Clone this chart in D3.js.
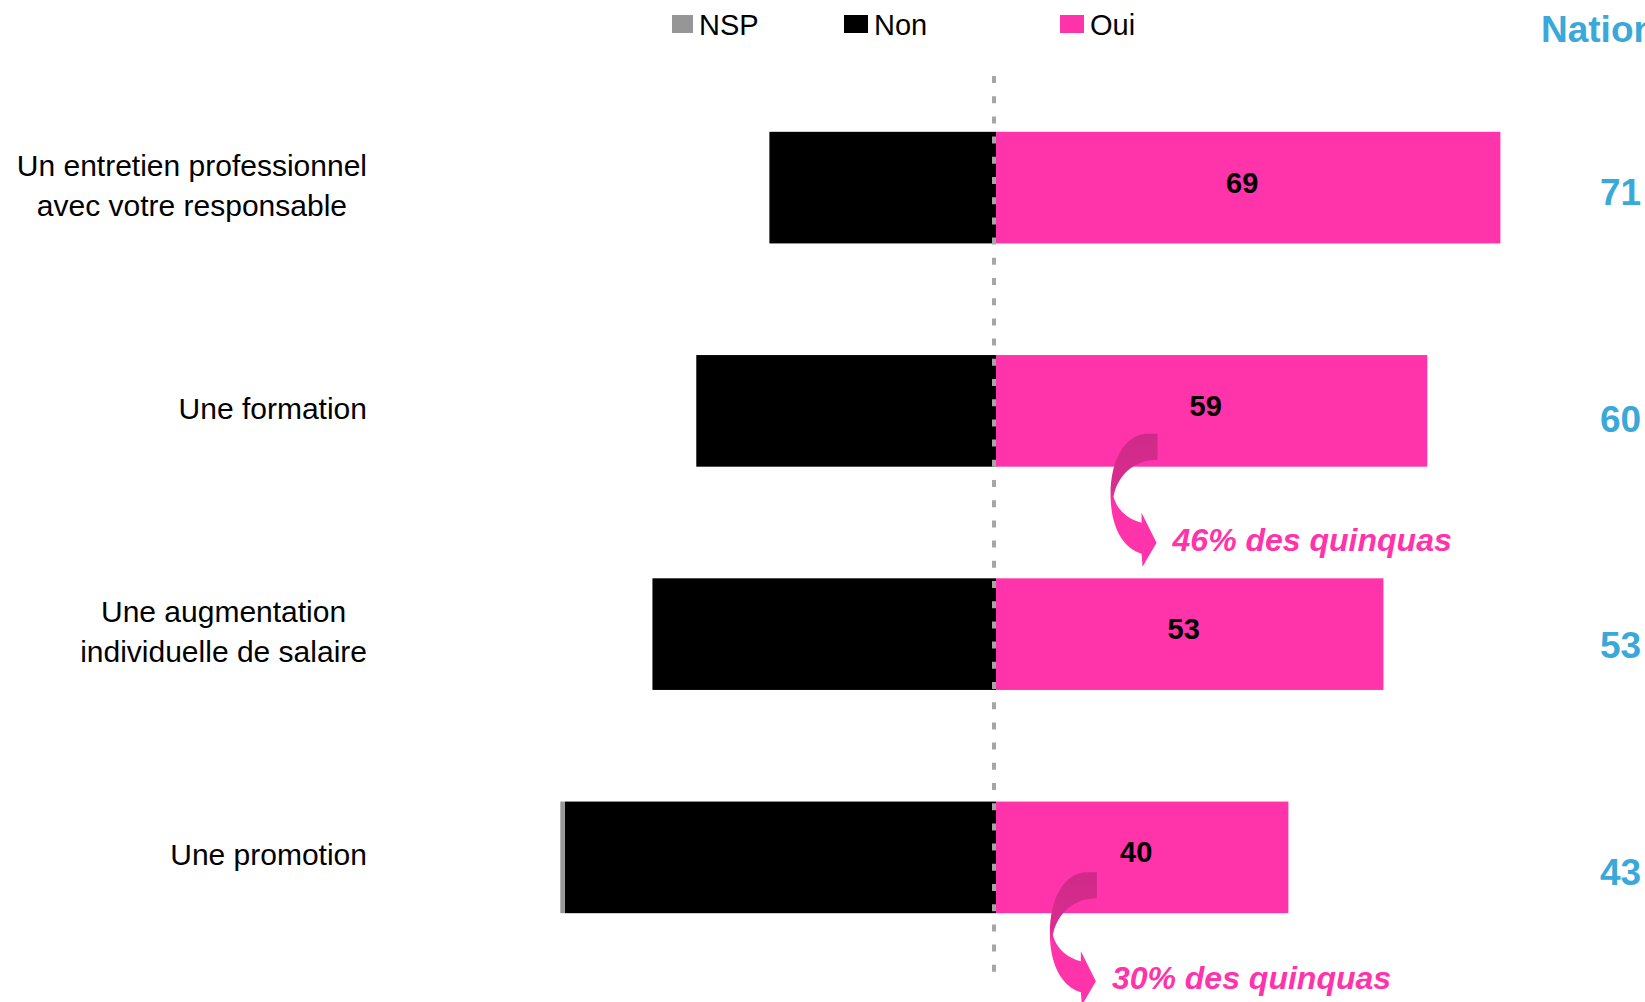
<!DOCTYPE html>
<html lang="fr">
<head>
<meta charset="utf-8">
<script src="https://cdn.jsdelivr.net/npm/d3@7"></script>
<style>
  html, body { margin: 0; padding: 0; background: #fff; overflow: hidden; }
  svg { display: block; font-family: "Liberation Sans", Arial, sans-serif; }
</style>
</head>
<body>
<svg id="chart" width="1645" height="1002"></svg>
<script>
// Survey answers, in percent
const categories = [
  "Un entretien professionnel|avec votre responsable",
  "Une formation",
  "Une augmentation|individuelle de salaire",
  "Une promotion"
];
const oui = [69, 59, 53, 40];
const non = [31, 41, 47, 59];
const nsp = [0, 0, 0, 0.6];

// National reference figures shown on the right
const nationalTitle = "National";
const national = [71, 60, 53, 43];

// Legend
const legendLabels = ["NSP", "Non", "Oui"];

// Call-outs under some bars
const calloutCategories = ["Une formation", "Une promotion"];
const calloutTexts = ["46% des quinquas", "30% des quinquas"];

// ---- styling ----
const COLORS = { NSP: "#969696", Non: "#000000", Oui: "#ff33aa" };
const BLUE = "#3aa9d9";
const W = 1645, H = 1002;

const svg = d3.select("#chart");
svg.append("rect").attr("width", W).attr("height", H).attr("fill", "#fff");

const rows = categories.map((c, i) => ({ cat: c, oui: oui[i], non: non[i], nsp: nsp[i], nat: national[i] }));

const x = d3.scaleLinear().domain([-100, 100]).range([265, 1727]);
const y = d3.scaleBand().domain(categories).range([76, 969]).paddingInner(0.5).paddingOuter(0.25);

// gradient for the curved call-out arrows
const defs = svg.append("defs");
const grad = defs.append("linearGradient").attr("id", "arrowGrad")
  .attr("x1", 0).attr("y1", 0).attr("x2", 0).attr("y2", 1);
grad.append("stop").attr("offset", 0).attr("stop-color", "#cf2a89");
grad.append("stop").attr("offset", 0.42).attr("stop-color", "#d92c8f");
grad.append("stop").attr("offset", 0.52).attr("stop-color", "#ff33aa");
grad.append("stop").attr("offset", 1).attr("stop-color", "#ff33aa");

const bars = svg.append("g");
// Oui to the right of zero
bars.selectAll("rect.oui").data(rows).join("rect")
  .attr("class", "oui")
  .attr("x", x(0)).attr("y", d => y(d.cat))
  .attr("width", d => x(d.oui) - x(0)).attr("height", y.bandwidth())
  .attr("fill", COLORS.Oui);
// Non to the left of zero
bars.selectAll("rect.non").data(rows).join("rect")
  .attr("class", "non")
  .attr("x", d => x(-d.non)).attr("y", d => y(d.cat))
  .attr("width", d => x(0) - x(-d.non)).attr("height", y.bandwidth())
  .attr("fill", COLORS.Non);
// NSP beyond Non
bars.selectAll("rect.nsp").data(rows.filter(d => d.nsp > 0)).join("rect")
  .attr("class", "nsp")
  .attr("x", d => x(-d.non - d.nsp)).attr("y", d => y(d.cat))
  .attr("width", d => x(-d.non) - x(-d.non - d.nsp)).attr("height", y.bandwidth())
  .attr("fill", COLORS.NSP);

// dashed zero line
svg.append("line")
  .attr("x1", x(0) - 2).attr("x2", x(0) - 2)
  .attr("y1", y.range()[0]).attr("y2", y.range()[1] + 4)
  .attr("stroke", "#a6a6a6").attr("stroke-width", 4)
  .attr("stroke-dasharray", "7 13.2");

// value labels inside the Oui bars
svg.append("g").selectAll("text").data(rows).join("text")
  .attr("x", d => (x(0) + x(d.oui)) / 2 - 6)
  .attr("y", d => y(d.cat) + y.bandwidth() / 2 + 5)
  .attr("text-anchor", "middle")
  .attr("font-size", 29).attr("font-weight", "bold").attr("fill", "#000")
  .text(d => d.oui);

// category labels: centred line blocks, right-aligned against the bars
const labelRight = 367;
const labels = svg.append("g").selectAll("g").data(rows).join("g");
labels.each(function (d) {
  const g = d3.select(this);
  const lines = d.cat.split("|");
  const lh = 40;
  const cy = y(d.cat) + y.bandwidth() / 2 - 2;
  const texts = g.selectAll("text").data(lines).join("text")
    .attr("font-size", 30).attr("fill", "#000")
    .attr("text-anchor", "middle")
    .attr("y", (l, i) => cy + 10 + (i - (lines.length - 1) / 2) * lh)
    .text(l => l);
  let maxW = 0;
  texts.each(function () { maxW = Math.max(maxW, this.getComputedTextLength()); });
  texts.attr("x", labelRight - maxW / 2);
});

// legend
const legendX = [672, 844, 1060];
const legendW = [21, 24, 24];
const legend = svg.append("g").selectAll("g").data(legendLabels).join("g")
  .attr("transform", (d, i) => `translate(${legendX[i]},15)`);
legend.append("rect").attr("width", (d, i) => legendW[i]).attr("height", 18).attr("fill", d => COLORS[d]);
legend.append("text").attr("x", (d, i) => legendW[i] + 6).attr("y", 20)
  .attr("font-size", 29).attr("fill", "#000").text(d => d);

// national column on the right
svg.append("text").attr("x", 1541).attr("y", 42)
  .attr("font-size", 37).attr("font-weight", "bold").attr("fill", BLUE)
  .text(nationalTitle);
const yNat = d3.scalePoint().domain(categories).range([192, 872]);
svg.append("g").selectAll("text").data(rows).join("text")
  .attr("x", 1600).attr("y", d => yNat(d.cat) + 13)
  .attr("font-size", 37).attr("font-weight", "bold").attr("fill", BLUE)
  .text(d => d.nat);

// curved call-out arrows with italic notes
const arrowPath = "M0,0 L0,26 C-23,26 -40,41 -44,63 C-40,78 -28,86 -16,89 L-16,79 L-1,109 L-15,133 " +
  "L-16,120 C-36,114 -47,91 -47,61 C-47,26 -33,2 -12,0 Z";
const calloutAnchor = [[22.1, -33], [13.8, -41]]; // [x value of arrow tail, offset from bar bottom]
const callouts = svg.append("g").selectAll("g").data(calloutCategories).join("g")
  .attr("transform", (c, i) => {
    const ax = x(calloutAnchor[i][0]);
    const ay = y(c) + y.bandwidth() + calloutAnchor[i][1];
    return `translate(${ax},${ay})`;
  });
callouts.append("path").attr("d", arrowPath).attr("fill", "url(#arrowGrad)");
callouts.append("text")
  .attr("x", 15).attr("y", 117)
  .attr("font-size", 32).attr("font-weight", "bold").attr("font-style", "italic")
  .attr("fill", "#ff33aa")
  .text((c, i) => calloutTexts[i]);
</script>
</body>
</html>
